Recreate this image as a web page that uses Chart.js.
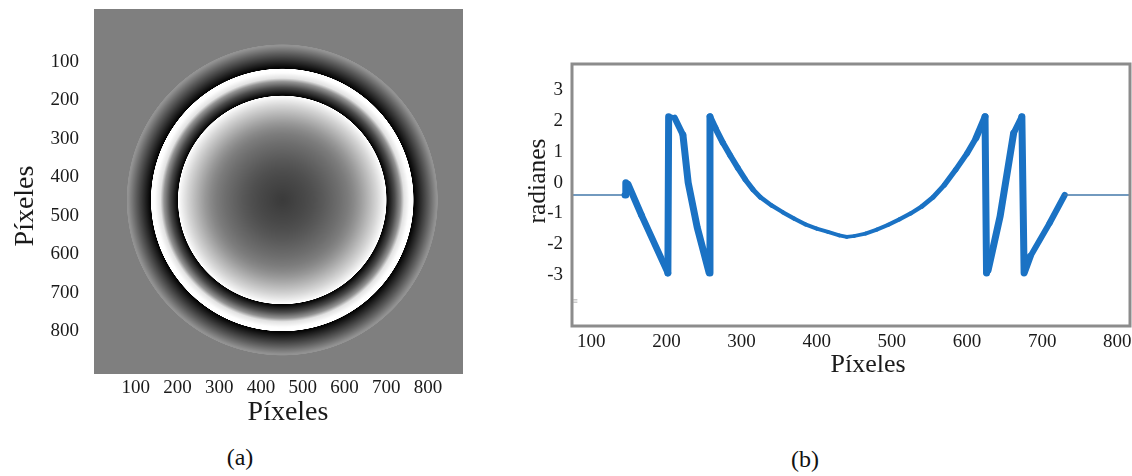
<!DOCTYPE html>
<html>
<head>
<meta charset="utf-8">
<script src="https://cdn.jsdelivr.net/npm/chart.js@4.4.1/dist/chart.umd.min.js"></script>
<style>
  html, body { margin: 0; padding: 0; background: #fff; }
  body { width: 1132px; height: 476px; position: relative; overflow: hidden; font-family: "Liberation Serif", "DejaVu Serif", serif; }
  .panel { position: absolute; top: 0; height: 432px; }
  #boxA { left: 0; width: 480px; }
  #boxB { left: 480px; width: 652px; }
  .tag { position: absolute; font-size: 24px; color: #111; transform: translate(-50%, -50%); }
</style>
</head>
<body>
<div class="panel" id="boxA"><canvas id="mapChart"></canvas></div>
<div class="panel" id="boxB"><canvas id="cutChart"></canvas></div>
<div class="tag" style="left:240px; top:457px">(a)</div>
<div class="tag" style="left:805px; top:459px">(b)</div>
<script>
// corte horizontal de la fase envuelta (radianes) por el centro del patrón
const cutPx = [70, 145, 146, 149, 167, 202, 203, 207, 211, 222,
  229, 241, 257, 258, 265, 275, 285, 295, 305, 315,
  325, 340, 355, 370, 385, 400, 415, 430, 440, 450,
  465, 480, 495, 510, 525, 540, 555, 570, 585, 600,
  612, 624, 626, 628, 644, 662, 673, 676, 684, 710,
  730, 820];
const cutRad = [-0.4, -0.4, 0.0, -0.05, -1.06, -2.93, 2.14, 2.14, 2.1, 1.55,
  0.0, -1.45, -2.93, 2.14, 1.78, 1.30, 0.88, 0.48, 0.10, -0.22,
  -0.47, -0.74, -0.96, -1.17, -1.35, -1.49, -1.60, -1.71, -1.76, -1.73,
  -1.65, -1.52, -1.37, -1.19, -1.0, -0.77, -0.47, -0.07, 0.42, 0.95,
  1.45, 2.14, -2.93, -2.85, -1.1, 1.6, 2.14, -2.93, -2.4, -1.31,
  -0.4, -0.4];

// radios de los anillos en el mapa (a) y su distancia al centro en el corte (b)
const ringMap = [0, 248, 314, 373, 1000];
const ringCut = [0, 181, 237, 295, 922];

const pixTicks = [100, 200, 300, 400, 500, 600, 700, 800];
const radTicks = [-3, -2, -1, 0, 1, 2, 3];

const BACKGROUND = -0.4;              // fase fuera del objeto
const PHASE_LO = -2.93, PHASE_HI = 2.14;
const MAP_CENTER = [451, 459];        // centro del patrón en el mapa (a)
const CUT_CENTER = 440;               // mismo centro sobre el corte (b)

const SERIF = '"Liberation Serif", "Times New Roman", serif';
const INK = '#1a1a1a';

function lerpTable(xs, ys, p) {
  if (p <= xs[0]) return ys[0];
  for (let i = 1; i < xs.length; i++) {
    if (p <= xs[i]) {
      const t = (p - xs[i - 1]) / (xs[i] - xs[i - 1]);
      return ys[i - 1] + t * (ys[i] - ys[i - 1]);
    }
  }
  return ys[ys.length - 1];
}

// mapa de fase en gris: el corte girado alrededor del centro
const phaseMap = {
  id: 'phaseMap',
  beforeDatasetsDraw(chart) {
    const { ctx, chartArea: a, scales: { x, y } } = chart;
    const left = Math.round(a.left), top = Math.round(a.top);
    const w = Math.round(a.right) - left, h = Math.round(a.bottom) - top;
    const img = ctx.createImageData(w, h);
    const cx = x.getPixelForValue(MAP_CENTER[0]);
    const cy = y.getPixelForValue(MAP_CENTER[1]);
    const unitsPerPx = Math.abs(x.getValueForPixel(cx + 100) - MAP_CENTER[0]) / 100;
    for (let j = 0; j < h; j++) {
      for (let i = 0; i < w; i++) {
        const r = Math.hypot(left + i + 0.5 - cx, top + j + 0.5 - cy) * unitsPerPx;
        const v = lerpTable(cutPx, cutRad, CUT_CENTER - lerpTable(ringMap, ringCut, r));
        const g = Math.max(0, Math.min(255, Math.round((v - PHASE_LO) / (PHASE_HI - PHASE_LO) * 255)));
        const k = (j * w + i) * 4;
        img.data[k] = img.data[k + 1] = img.data[k + 2] = g;
        img.data[k + 3] = 255;
      }
    }
    ctx.putImageData(img, left, top);
  }
};

// marco gris alrededor del área del corte
const frame = {
  id: 'frame',
  afterDraw(chart, args, opts) {
    const { ctx, chartArea: a } = chart;
    ctx.save();
    ctx.strokeStyle = opts.color;
    ctx.lineWidth = opts.width;
    ctx.strokeRect(a.left, a.top, a.right - a.left, a.bottom - a.top);
    ctx.restore();
  }
};

// títulos de ejes como texto libre
const captions = {
  id: 'captions',
  afterDraw(chart, args, opts) {
    const ctx = chart.ctx;
    (opts.items || []).forEach((c) => {
      ctx.save();
      ctx.fillStyle = c.color || INK;
      ctx.font = `${c.size}px ${SERIF}`;
      ctx.textAlign = 'center';
      ctx.textBaseline = 'alphabetic';
      ctx.translate(c.x, c.y);
      if (c.rotate) ctx.rotate(-Math.PI / 2);
      ctx.fillText(c.text, 0, 0);
      ctx.restore();
    });
  }
};

const tickFont = { family: SERIF, size: 19 };
const fixedTicks = (vals) => (scale) => { scale.ticks = vals.map((v) => ({ value: v })); };
const fitX = (hgt) => (s) => { s.height = hgt; s.paddingLeft = 0; s.paddingRight = 0; };
const fitY = (wid) => (s) => { s.width = wid; s.paddingTop = 0; s.paddingBottom = 0; };

new Chart(document.getElementById('mapChart'), {
  type: 'scatter',
  data: { datasets: [] },
  options: {
    responsive: true, maintainAspectRatio: false, animation: false, events: [],
    layout: { padding: { top: 9, right: 17, left: 0, bottom: 0 } },
    plugins: {
      legend: { display: false }, tooltip: { enabled: false },
      captions: {
        items: [
          { text: 'Píxeles', x: 288, y: 420, size: 28 },
          { text: 'Píxeles', x: 33, y: 206, size: 28, rotate: true },
        ],
      },
    },
    scales: {
      x: {
        type: 'linear', min: 0, max: 884,
        afterBuildTicks: fixedTicks(pixTicks),
        afterFit: fitX(58),
        grid: { display: false, drawTicks: false }, border: { display: false },
        ticks: { font: tickFont, color: INK, padding: 3, maxRotation: 0, autoSkip: false },
      },
      y: {
        type: 'linear', reverse: true, min: -38, max: 912,
        afterBuildTicks: fixedTicks(pixTicks),
        afterFit: fitY(94),
        grid: { display: false, drawTicks: false }, border: { display: false },
        ticks: { font: tickFont, color: INK, padding: 15, autoSkip: false },
      },
    },
  },
  plugins: [phaseMap, captions],
});

const isFlat = (c) => c.p0.parsed.y === BACKGROUND && c.p1.parsed.y === BACKGROUND;

new Chart(document.getElementById('cutChart'), {
  type: 'line',
  data: {
    datasets: [{
      data: cutPx.map((p, i) => ({ x: p, y: cutRad[i] })),
      borderColor: '#1a72c4',
      borderWidth: 4,
      borderCapStyle: 'round',
      borderJoinStyle: 'round',
      pointRadius: 0,
      tension: 0,
      segment: {
        // trazo más grueso donde la fase cambia rápido
        borderWidth: (c) => {
          if (isFlat(c)) return 1.5;
          const dx = Math.abs(c.p1.x - c.p0.x) || 0.01;
          return 3.5 + Math.min(3.5, 1.4 * Math.abs(c.p1.y - c.p0.y) / dx);
        },
        borderColor: (c) => (isFlat(c) ? '#4479ab' : undefined),
      },
    }],
  },
  options: {
    responsive: true, maintainAspectRatio: false, animation: false, events: [],
    layout: { padding: { top: 64, right: 2, left: 0, bottom: 0 } },
    plugins: {
      legend: { display: false }, tooltip: { enabled: false },
      frame: { color: '#8c8c8c', width: 3 },
      captions: {
        items: [
          { text: 'Píxeles', x: 388, y: 372, size: 26 },
          { text: 'radianes', x: 65, y: 181, size: 25.5, rotate: true },
          { text: '≡', x: 95, y: 304, size: 9, color: '#9a9a9a' },
        ],
      },
    },
    scales: {
      x: {
        type: 'linear', min: 74.4, max: 816.9,
        afterBuildTicks: fixedTicks(pixTicks),
        afterFit: fitX(106),
        grid: { display: false, drawTicks: false }, border: { display: false },
        ticks: { font: tickFont, color: INK, padding: 5, maxRotation: 0, autoSkip: false },
      },
      y: {
        type: 'linear', min: -4.65, max: 3.85,
        afterBuildTicks: fixedTicks(radTicks),
        afterFit: fitY(92),
        grid: { display: false, drawTicks: false }, border: { display: false },
        ticks: { font: tickFont, color: INK, padding: 9, autoSkip: false },
      },
    },
  },
  plugins: [frame, captions],
});
</script>
</body>
</html>
